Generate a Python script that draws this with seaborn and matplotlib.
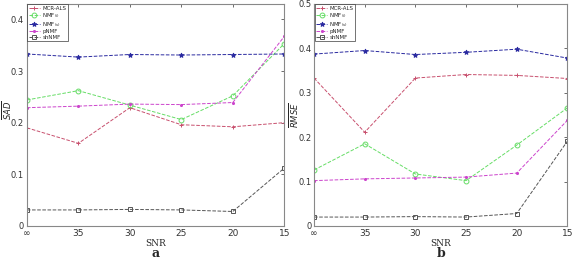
import numpy as np
import pandas as pd
import seaborn as sns
import matplotlib.pyplot as plt

snr_labels = ['\u221e', '35', '30', '25', '20', '15']
methods = ['MCR-ALS', r'NMF$_{(i)}$', r'NMF$_{(s)}$', 'pNMF', 'shNMF']

sad_mcr = [0.190, 0.160, 0.229, 0.196, 0.192, 0.200]
sad_nmfi = [0.244, 0.262, 0.234, 0.206, 0.252, 0.353]
sad_nmfs = [0.333, 0.327, 0.332, 0.331, 0.332, 0.333]
sad_pnmf = [0.229, 0.232, 0.236, 0.235, 0.239, 0.367]
sad_shnmf = [0.031, 0.031, 0.032, 0.031, 0.028, 0.112]

rmse_mcr = [0.333, 0.211, 0.333, 0.341, 0.339, 0.332]
rmse_nmfi = [0.126, 0.185, 0.117, 0.102, 0.182, 0.266]
rmse_nmfs = [0.387, 0.395, 0.386, 0.391, 0.398, 0.378]
rmse_pnmf = [0.102, 0.106, 0.108, 0.110, 0.119, 0.238]
rmse_shnmf = [0.020, 0.020, 0.021, 0.020, 0.028, 0.191]

colors = ['#c8506e', '#66dd66', '#2a2aa0', '#cc44cc', '#555555']
markers = ['+', 'o', '*', '.', 's']

def make_frame(series):
    rows = []
    for m, vals in zip(methods, series):
        for i, v in enumerate(vals):
            rows.append({'Method': m, 'pos': i, 'value': v})
    return pd.DataFrame(rows)

sad = make_frame([sad_mcr, sad_nmfi, sad_nmfs, sad_pnmf, sad_shnmf])
rmse = make_frame([rmse_mcr, rmse_nmfi, rmse_nmfs, rmse_pnmf, rmse_shnmf])

sns.set_style('white')
plt.rcParams['font.family'] = ['DejaVu Sans']

fig = plt.figure(figsize=(5.72, 2.6), dpi=100)
ax1 = fig.add_axes([0.047, 0.131, 0.450, 0.854])
ax2 = fig.add_axes([0.549, 0.131, 0.443, 0.854])

def draw(ax, df, ylim, yticks, ylabel, letter, ylab_x, ylab_y):
    for m, c, mk in zip(methods, colors, markers):
        d = df[df['Method'] == m]
        face = 'none' if mk in ('o', 's') else c
        sns.lineplot(data=d, x='pos', y='value', ax=ax, color=c, marker=mk,
                     markersize=3.5 if mk != '.' else 3, markerfacecolor=face,
                     markeredgecolor=c, markeredgewidth=0.7,
                     linestyle='--', linewidth=0.7, label=m)
    ax.set_xlim(0, len(snr_labels) - 1)
    ax.set_ylim(*ylim)
    ax.set_xticks(range(len(snr_labels)))
    ax.set_xticklabels(snr_labels)
    ax.set_yticks(yticks)
    ax.set_yticklabels([('0' if t == 0 else f'{t:g}') for t in yticks])
    ax.tick_params(direction='in', length=2.5, width=0.5, labelsize=6,
                   top=True, right=True, pad=2, colors='#333333')
    ax.tick_params(axis='x', labelsize=6.5)
    for s in ax.spines.values():
        s.set_color('#888888')
        s.set_linewidth(0.8)
    ax.set_xlabel('')
    ax.set_ylabel(ylabel, fontsize=6)
    ax.yaxis.set_label_coords(ylab_x, ylab_y)
    ax.text(0.5, -0.077, 'SNR', transform=ax.transAxes, ha='center', va='center',
            family='serif', fontsize=6.5)
    leg = ax.legend(loc='upper left', fontsize=4, frameon=True, fancybox=False,
                    handlelength=2.0, handletextpad=0.4, borderpad=0.25,
                    labelspacing=0.12, borderaxespad=0.1)
    leg.get_frame().set_edgecolor('#333333')
    leg.get_frame().set_linewidth(0.6)
    ax.text(0.5, -0.126, letter, transform=ax.transAxes, ha='center', va='center',
            family='serif', fontweight='bold', fontsize=9)

draw(ax1, sad, (0, 0.43), [0, 0.1, 0.2, 0.3, 0.4], r'$\overline{SAD}$', 'a', -0.05, 0.52)
draw(ax2, rmse, (0, 0.5), [0, 0.1, 0.2, 0.3, 0.4, 0.5], r'$\overline{RMSE}$', 'b', -0.05, 0.5)

fig.savefig('out.png', dpi=100)
